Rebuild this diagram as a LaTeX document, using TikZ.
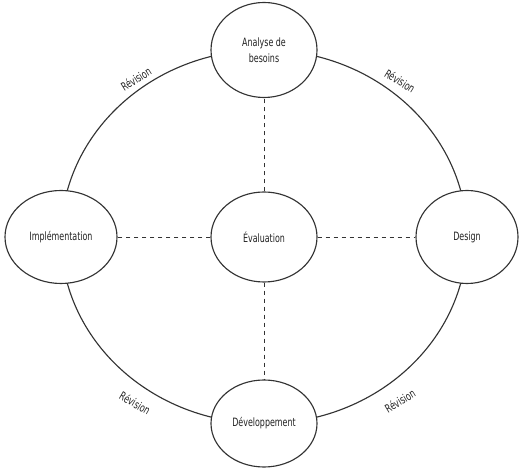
\documentclass[tikz,border=0pt]{standalone}
\usepackage{fontspec}
\setmainfont[FakeStretch=0.77]{DejaVu Sans Condensed}
\usetikzlibrary{shapes.geometric,backgrounds}
\definecolor{ln}{HTML}{333333}
\definecolor{tx}{HTML}{222222}
\begin{document}
\begin{tikzpicture}[x=0.75pt,y=0.75pt,
  phase/.style={ellipse,draw=ln,line width=0.85pt,fill=white,inner sep=0pt,
     text=tx,font=\fontsize{8.6}{12}\selectfont,align=center},
  link/.style={draw=ln,line width=0.6pt,dashed},
  cycle/.style={draw=ln,line width=0.85pt},
  rev/.style={text=tx,font=\fontsize{8.6}{10}\selectfont,inner sep=0pt}]
\useasboundingbox (0,0) rectangle (520,470);
\node[phase,minimum width=106*0.75pt,minimum height=95*0.75pt] (ana) at (264,420) {Analyse de\\besoins};
\node[phase,minimum width=112*0.75pt,minimum height=93*0.75pt] (imp) at (61,233) {Implémentation};
\node[phase,minimum width=102*0.75pt,minimum height=93*0.75pt] (des) at (467,233) {Design};
\node[phase,minimum width=106*0.75pt,minimum height=90*0.75pt] (eva) at (264,233) {Évaluation};
\node[phase,minimum width=106*0.75pt,minimum height=87*0.75pt] (dev) at (264,46.5) {Développement};
\begin{scope}[on background layer]
\draw[cycle] (ana.center) arc[start angle=90,end angle=0,x radius=203*0.75pt,y radius=187*0.75pt];
\draw[cycle] (des.center) arc[start angle=0,end angle=-90,x radius=203*0.75pt,y radius=186.5*0.75pt];
\draw[cycle] (dev.center) arc[start angle=270,end angle=180,x radius=203*0.75pt,y radius=186.5*0.75pt];
\draw[cycle] (imp.center) arc[start angle=180,end angle=90,x radius=203*0.75pt,y radius=187*0.75pt];
\end{scope}
\draw[link] (eva) -- (ana);
\draw[link] (eva) -- (dev);
\draw[link] (eva) -- (imp);
\draw[link] (eva) -- (des);
\node[rev,rotate=32] (r1) at (136,391) {Révision};
\node[rev,rotate=-32] (r2) at (400,389) {Révision};
\node[rev,rotate=-30] (r3) at (135,67) {Révision};
\node[rev,rotate=31] (r4) at (400,69) {Révision};
\end{tikzpicture}
\end{document}
